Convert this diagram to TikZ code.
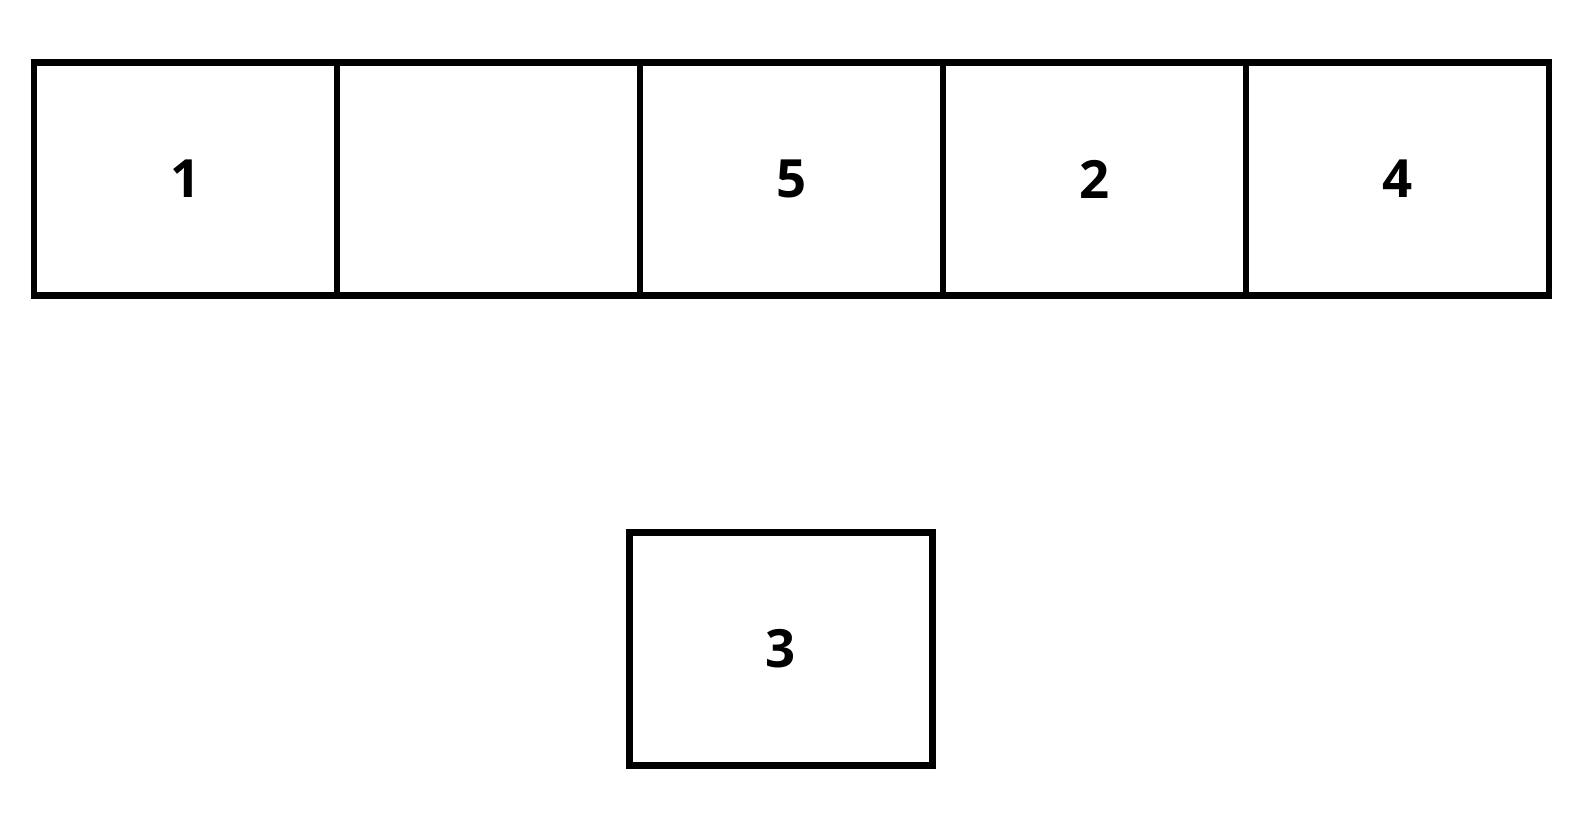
\documentclass[tikz,border=0pt]{standalone}
\usepackage{fontspec}
\setmainfont{Open Sans}
\usetikzlibrary{positioning}

\tikzstyle{feld} = [rectangle, minimum width=6.06cm, minimum height=4.66cm, inner sep=0pt, outer sep=0pt, text centered, draw=black, line width=0.13cm, font=\fontsize{30}{36}\selectfont\bfseries]

\begin{document}
\begin{tikzpicture}[node distance=6.06cm]
	\useasboundingbox (0,0) rectangle (31.6,-16.46);
	\node (eins)  [feld] at (3.71,-3.58) {1};
	\node (leer)  [feld, right of=eins] {};
	\node (fuenf) [feld, right of=leer] {5};
	\node (zwei)  [feld, right of=fuenf] {2};
	\node (vier)  [feld, right of=zwei] {4};
	\node (drei)  [feld, below of=fuenf, node distance=9.4cm, xshift=-0.21cm] {3};
\end{tikzpicture}
\end{document}
